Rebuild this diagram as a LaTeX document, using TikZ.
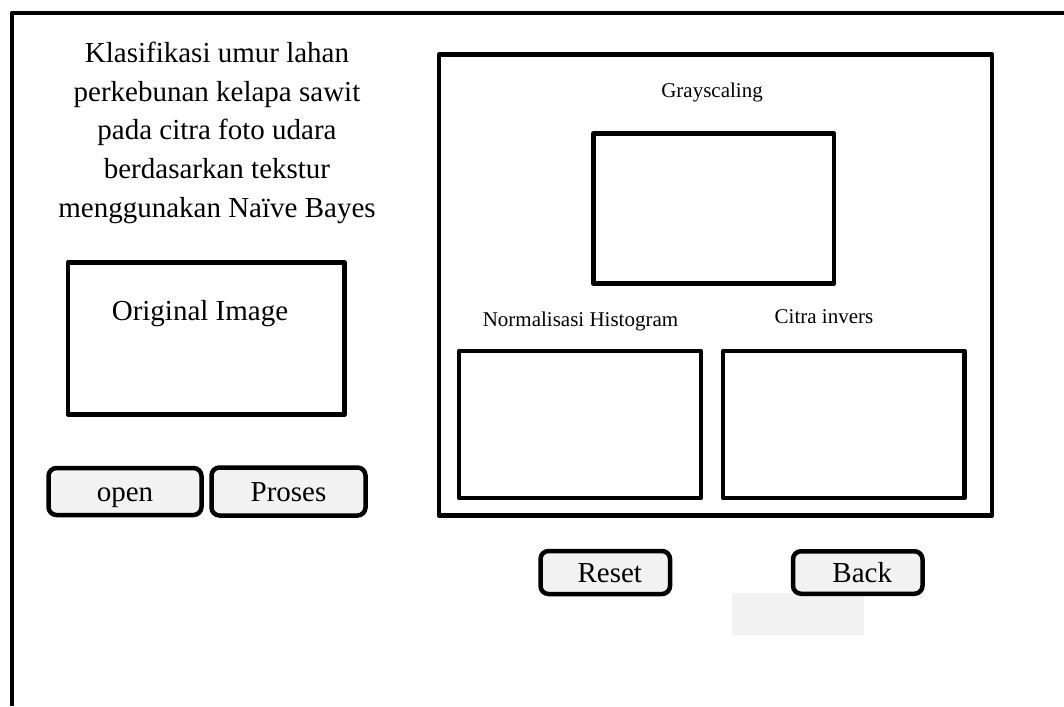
\documentclass[tikz,border=0pt]{standalone}
\usepackage{fontspec}
\setmainfont{Liberation Serif}
\usetikzlibrary{positioning}
\definecolor{btngray}{HTML}{F2F2F2}

\begin{document}
\begin{tikzpicture}[
x=1pt, y=-1pt,
frame/.style={line width=4pt, line join=round},
panel/.style={
rectangle,
draw,
line width=4.5pt,
line join=round,
inner sep=0pt
},
btn/.style={
rectangle,
rounded corners=8pt,
draw,
line width=4.5pt,
fill=btngray,
inner sep=0pt,
font=\fontsize{29}{34}\selectfont,
text height=24pt,
text depth=4pt
},
caption/.style={font=\fontsize{21}{25}\selectfont, inner sep=0pt},
bigtext/.style={font=\fontsize{29}{38.75}\selectfont, inner sep=0pt}
]
\useasboundingbox (0,0) rectangle (1064,706);

% window frame
\draw[frame] (11.5,706) -- (11.5,13) -- (1064,13);

% left side
\node[bigtext, align=center] (title) at (217,132.7) {Klasifikasi umur lahan\\
perkebunan kelapa sawit\\
pada citra foto udara\\
berdasarkan tekstur\\
menggunakan Naïve Bayes};

\node[panel, minimum width=276.5pt, minimum height=152pt] (orig) at (206.25,338.5) {};
\node[bigtext, anchor=base] (origlbl) at (200,320) {Original Image};

\node[btn, minimum width=153pt, minimum height=47pt] (open) at (125,491.5) {open};
\node[btn, minimum width=154pt, minimum height=48pt, right=5.5pt of open] (proses) {Proses};

% right side
\node[panel, minimum width=553pt, minimum height=461pt] (result) at (715.5,285) {};

\node[panel, minimum width=240.5pt, minimum height=150pt] (gray) at (713.75,208.5) {};
\node[caption, anchor=base] (graylbl) at (712,98) {Grayscaling};

\node[panel, minimum width=242pt, minimum height=147pt] (hist) at (580,424.5) {};
\node[caption, anchor=base] (histlbl) at (580.5,326) {Normalisasi Histogram};

\node[panel, minimum width=241.5pt, minimum height=147pt] (inv) at (843.75,424.5) {};
\node[caption, anchor=base] (invlbl) at (824,323) {Citra invers};

% buttons below
\node[fill=btngray, minimum width=132pt, minimum height=42pt, inner sep=0pt] (blank) at (798,614) {};
\node[btn, minimum width=129.5pt, minimum height=43pt] (reset) at (605.25,572.5) {\hspace*{9pt}Reset};
\node[btn, minimum width=129.5pt, minimum height=42.5pt, right=118.5pt of reset] (back) {\hspace*{9pt}Back};

\end{tikzpicture}
\end{document}
